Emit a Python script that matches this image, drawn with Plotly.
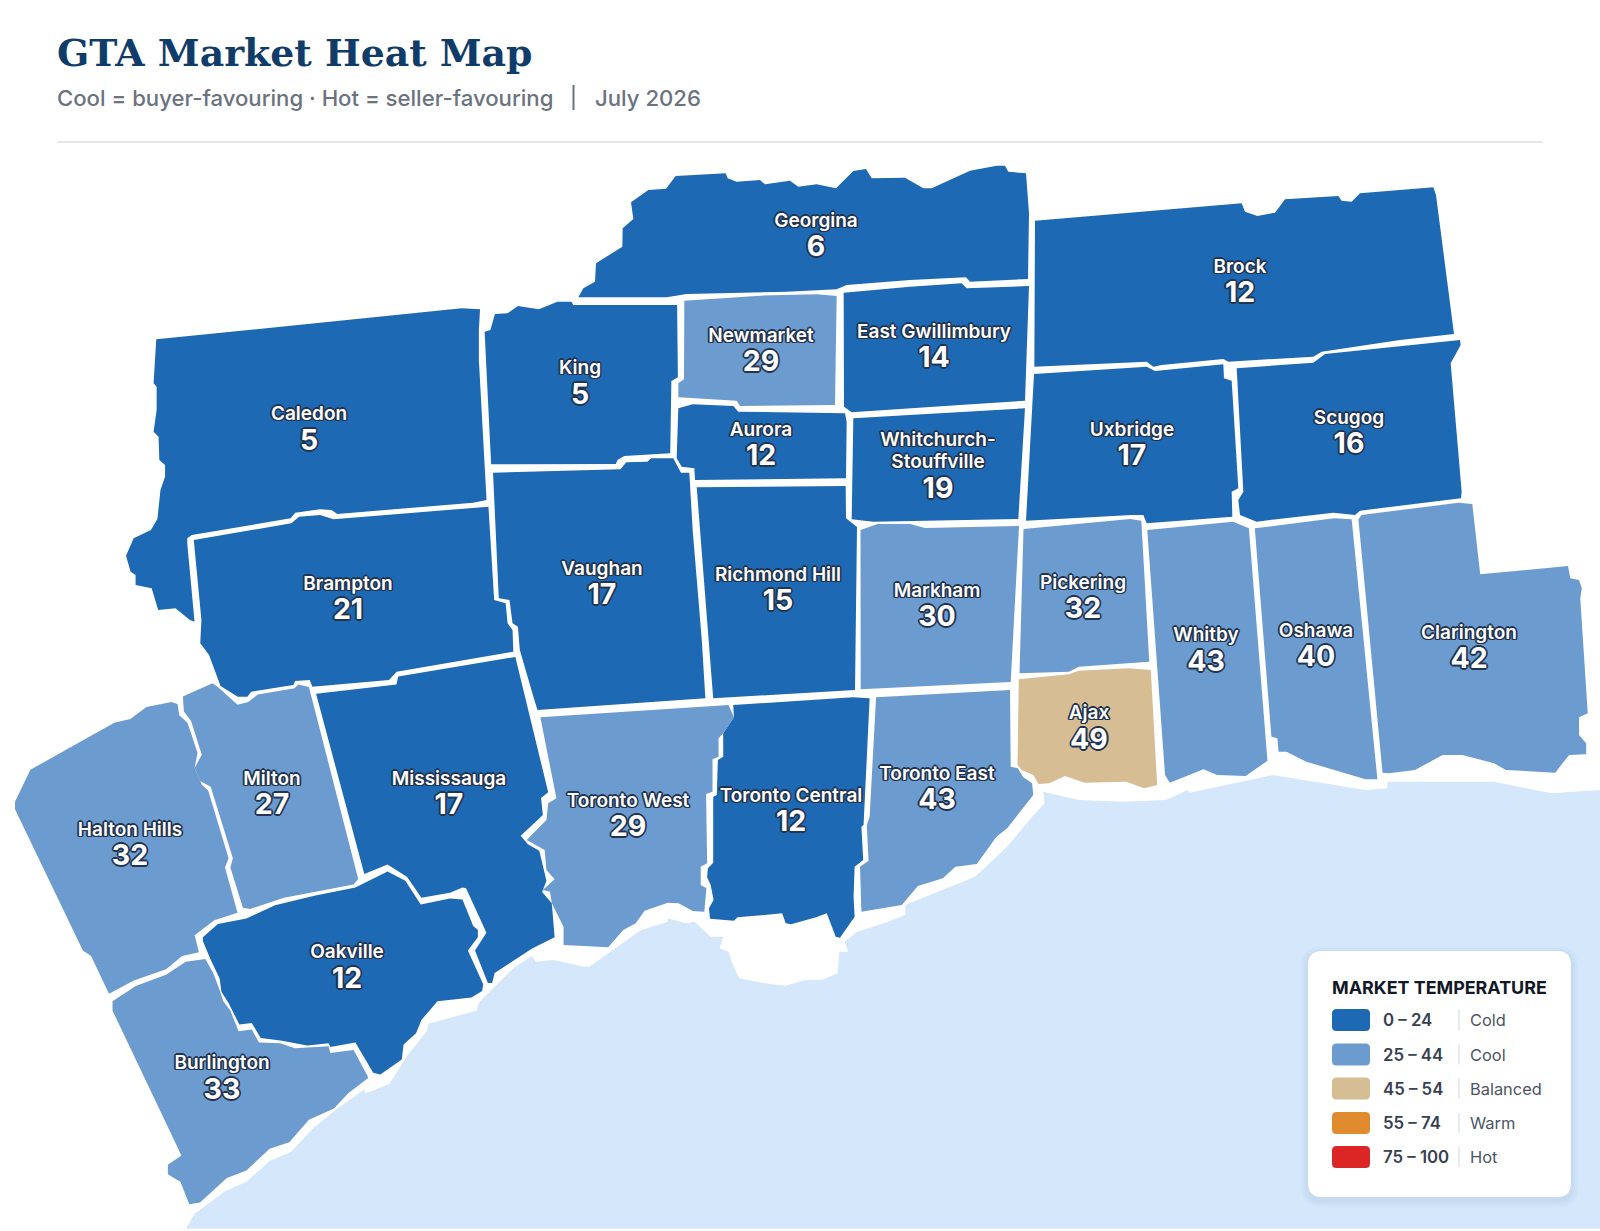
import plotly.graph_objects as go

# ---------- survey frames the outlines were read in: origin and pixels per map unit ----------
Z3 = (0, 640, 2.8, 2.658)
Z4 = (500, 640, 2.8, 3.0)
Z5 = (980, 480, 2.529, 3.0)
Z6 = (100, 280, 2.613, 3.0)
Z7 = (560, 150, 3.0, 3.0)
Z8 = (1000, 170, 3.0, 3.0)
MAP = (0, 0, 1.0, 1.0)


def seg(frame, pts):
    ox, oy, sx, sy = frame
    return [(ox + x / sx, oy + y / sy) for x, y in pts]


# ---------- data ----------
REGION_NAMES = ["Georgina", "Brock", "Caledon", "King", "Newmarket", "East Gwillimbury", "Aurora",
                "Whitchurch-Stouffville", "Uxbridge", "Scugog", "Vaughan", "Richmond Hill", "Markham",
                "Pickering", "Brampton", "Whitby", "Oshawa", "Clarington", "Ajax", "Toronto East",
                "Toronto Central", "Toronto West", "Mississauga", "Milton", "Halton Hills", "Oakville",
                "Burlington"]
REGION_SCORES = [6, 12, 5, 5, 29, 14, 12, 19, 17, 16, 17, 15, 30, 32, 21, 43, 40, 42, 49, 43, 12, 29, 17, 27,
                 32, 12, 33]

# text rows as the map prints them (one long name is wrapped over two rows)
NAME_ROWS = ["Georgina", "Brock", "Caledon", "King", "Newmarket", "East Gwillimbury", "Aurora",
             "Whitchurch-", "Stouffville", "Uxbridge", "Scugog", "Vaughan", "Richmond Hill", "Markham",
             "Pickering", "Brampton", "Whitby", "Oshawa", "Clarington", "Ajax", "Toronto East",
             "Toronto Central", "Toronto West", "Mississauga", "Milton", "Halton Hills", "Oakville",
             "Burlington"]
NAME_ROW_X = [816, 1240, 309, 580, 761, 934, 761, 938, 938, 1132, 1349, 602, 778, 937, 1083, 348, 1206, 1316, 1469,
              1089, 937, 791, 628, 449, 272, 130, 347, 222]
NAME_ROW_Y = [222, 268, 415, 369, 337, 333, 431, 441, 463, 431, 419, 570, 576, 592, 584, 585, 636, 632, 634, 714,
              775, 797, 802, 780, 780, 831, 953, 1064]
SCORE_X = [816, 1240, 309, 580, 761, 934, 761, 938, 1132, 1349, 602, 778, 937, 1083, 348, 1206, 1316, 1469, 1089,
           937, 791, 628, 449, 272, 130, 347, 222]
SCORE_Y = [249, 295, 443, 397, 364, 360, 458, 491, 458, 446, 597, 603, 619, 611, 612, 664, 659, 661, 742,
           802, 824, 829, 807, 807, 858, 981, 1092]

BIN_LOWER = [0, 25, 45, 55, 75]
BIN_RANGES = ["0 – 24", "25 – 44", "45 – 54", "55 – 74", "75 – 100"]
BIN_NAMES = ["Cold", "Cool", "Balanced", "Warm", "Hot"]
BIN_COLORS = ["#1d69b4", "#6c9bcf", "#d6bd94", "#e08c2e", "#dc2626"]

GEORGINA = seg(Z7, [(55, 442), (70, 415), (105, 395), (108, 340), (187, 290), (188, 235), (220, 207), (213, 157),
                    (265, 120), (318, 116), (347, 78), (497, 70), (503, 85), (530, 95), (600, 90), (615, 103),
                    (690, 92), (715, 110), (770, 103), (828, 115), (880, 63), (918, 57), (935, 85), (1035, 83),
                    (1090, 115), (1115, 115), (1230, 62), (1310, 47), (1335, 47), (1345, 65), (1398, 70),
                    (1407, 190), (1404, 387), (1230, 395), (1218, 382), (1050, 390), (860, 405), (830, 418),
                    (680, 425), (380, 432), (320, 442)])
NEWMARKET = seg(Z7, [(373, 452), (600, 437), (770, 433), (830, 438), (825, 765), (540, 768), (530, 752), (355, 742),
                     (355, 700), (372, 688)])
EAST_GWILLIMBURY = seg(Z7, [(851, 428), (1050, 410), (1205, 400), (1220, 415), (1407, 408), (1395, 752), (1200, 765),
                            (875, 787), (852, 770)])
KING = seg(Z6, [(1005, 155), (1020, 150), (1032, 102), (1065, 100), (1092, 78), (1147, 88), (1195, 65), (1232, 65),
                (1237, 75), (1508, 75), (1510, 292), (1493, 303), (1490, 520), (1370, 528), (1352, 540), (1348, 552),
                (1022, 553)])
CALEDON = seg(Z6, [(147, 178), (945, 85), (993, 88), (990, 150), (990, 240), (1010, 660), (975, 668), (620, 702),
                   (605, 690), (575, 688), (510, 698), (498, 715), (240, 765), (228, 775), (228, 790), (247, 1025),
                   (235, 1020), (197, 985), (152, 990), (135, 925), (93, 915), (93, 885), (80, 875), (68, 827),
                   (88, 775), (133, 750), (150, 717), (158, 630), (170, 590), (170, 555), (155, 540), (153, 470),
                   (140, 455), (148, 390), (148, 320), (140, 310)])
BRAMPTON = seg(Z6, [(245, 780), (500, 730), (520, 710), (575, 705), (610, 718), (975, 682), (1015, 680), (1030, 960),
                    (1060, 970), (1065, 1030), (1078, 1050), (1080, 1115), (775, 1175), (755, 1200), (555, 1220),
                    (548, 1200), (510, 1203), (505, 1215), (395, 1235), (385, 1250), (360, 1250), (315, 1218),
                    (285, 1125), (262, 1090), (265, 1020)])
VAUGHAN = seg(Z6, [(1027, 578), (1360, 568), (1375, 547), (1430, 545), (1440, 535), (1498, 535), (1518, 578)]) + \
    seg(Z7, [(388, 968), (398, 1140)]) + seg(Z4, [(565, 0), (575, 175), (105, 210)]) + \
    seg(Z6, [(1135, 1260), (1097, 1110), (1092, 1040), (1078, 1030), (1070, 960), (1042, 955)])
AURORA = seg(Z7, [(355, 775), (398, 763), (520, 768), (535, 785), (855, 790), (860, 815), (858, 985), (405, 990),
                  (403, 955), (365, 950), (350, 925)])
WHITCHURCH = seg(Z7, [(880, 805), (1395, 775), (1375, 1107), (940, 1115), (875, 1108)])
RICHMOND_HILL = seg(MAP, [(696.7, 487.3), (845.7, 486), (846, 518.3), (857, 527), (855, 690), (713.2, 698.3)])
MARKHAM = seg(MAP, [(860.5, 530), (877.5, 524), (910, 524), (925, 528), (1019, 526), (1010.7, 682), (860.7, 689.3)])
PICKERING = seg(Z5, [(110, 147), (380, 117), (408, 122), (428, 545), (250, 560), (225, 575), (100, 580)])
AJAX = seg(Z5, [(98, 598), (225, 583), (250, 572), (375, 565), (432, 570), (448, 915), (415, 925), (370, 905),
                (265, 908), (215, 888), (175, 910), (148, 912), (135, 885), (105, 870), (95, 855)])
WHITBY = seg(Z5, [(423, 150), (640, 125), (680, 145), (727, 842), (672, 888), (600, 885), (565, 868), (480, 908),
                  (468, 885)])
OSHAWA = seg(Z5, [(695, 145), (895, 115), (940, 118), (1005, 898), (975, 898), (825, 845), (775, 815), (755, 815),
                  (752, 775), (737, 770)])
CLARINGTON = seg(Z5, [(957, 118), (965, 105), (1210, 68), (1245, 72), (1265, 283), (1487, 258), (1493, 295),
                      (1515, 300), (1522, 325), (1518, 355), (1537, 700), (1515, 712), (1515, 765), (1533, 790),
                      (1533, 823), (1490, 825), (1473, 850), (1455, 878), (1330, 870), (1300, 850), (1220, 825),
                      (1170, 825), (1100, 870), (1035, 880), (1018, 878)])
BROCK = seg(Z8, [(105, 152), (725, 100), (735, 125), (772, 138), (825, 128), (855, 88), (1015, 78), (1025, 92),
                 (1055, 95), (1080, 70), (1300, 52), (1308, 75), (1362, 492), (1200, 510), (965, 545), (940, 560),
                 (685, 575), (670, 567), (485, 585), (460, 590), (440, 575), (103, 590)])
UXBRIDGE = seg(Z8, [(102, 612), (440, 590), (465, 603), (670, 583), (672, 625), (695, 632), (715, 955), (695, 965),
                    (697, 1040), (440, 1060), (430, 1035), (395, 1035), (78, 1052)])
SCUGOG = seg(Z8, [(710, 595), (940, 578), (975, 552), (1380, 510), (1382, 525), (1352, 580), (1385, 965), (1383, 985),
                  (1080, 1022), (1065, 1035), (1000, 1028), (770, 1055), (720, 1035), (715, 990), (730, 965)])
MILTON = seg(Z3, [(512, 150), (595, 115), (610, 125), (665, 172), (695, 165), (722, 145), (825, 128), (835, 118),
                  (865, 125), (1003, 635), (990, 650), (795, 685), (700, 715), (680, 712), (645, 605), (652, 580),
                  (590, 390), (560, 375), (545, 340), (565, 305), (535, 215), (515, 190)])
HALTON_HILLS = seg(Z3, [(85, 345), (320, 220), (365, 210), (410, 178), (480, 165), (497, 170), (502, 200), (525, 220),
                        (553, 300), (545, 340), (565, 385), (583, 400), (640, 580), (630, 605), (665, 725), (600, 745),
                        (545, 785), (557, 830), (510, 840), (465, 875), (375, 905), (305, 940), (255, 840), (232, 825),
                        (42, 450), (42, 430)])
BURLINGTON = seg(Z3, [(315, 960), (380, 920), (465, 890), (520, 855), (575, 848), (597, 885), (615, 930), (625, 960),
                      (645, 985), (668, 1040), (705, 1035), (725, 1070), (785, 1072), (825, 1085), (920, 1080),
                      (925, 1098), (990, 1090), (1030, 1160), (1030, 1165), (975, 1205), (935, 1245), (865, 1275),
                      (810, 1335), (755, 1352), (690, 1410), (635, 1430), (560, 1495), (530, 1500), (505, 1440),
                      (470, 1420), (470, 1395), (508, 1370), (315, 985)])
OAKVILLE = seg(Z3, [(568, 790), (610, 755), (690, 740), (770, 705), (880, 680), (995, 658), (1085, 615), (1135, 640),
                    (1178, 703), (1260, 687), (1295, 690), (1325, 760), (1338, 770), (1338, 790), (1310, 825),
                    (1353, 915), (1350, 933), (1320, 950), (1225, 960), (1180, 1010), (1165, 1045), (1130, 1075),
                    (1125, 1115), (1065, 1155), (1045, 1150), (995, 1070), (925, 1082), (920, 1072), (860, 1078),
                    (790, 1065), (730, 1058), (705, 1018), (670, 1022), (640, 965), (620, 935), (615, 900), (590, 850),
                    (568, 800)])
MISSISSAUGA = seg(Z3, [(885, 143), (1110, 118), (1115, 97), (1443, 45), (1535, 405), (1515, 420), (1520, 465),
                       (1458, 520), (1478, 543), (1510, 560), (1530, 640), (1518, 670), (1545, 700), (1553, 790),
                       (1490, 820), (1440, 850), (1385, 885), (1378, 912), (1366, 912), (1330, 825), (1362, 778),
                       (1305, 660), (1295, 658), (1260, 672), (1180, 685), (1140, 630), (1085, 597), (1020, 622)])
TORONTO_WEST = seg(Z4, [(113, 232), (640, 195), (655, 232), (625, 280), (612, 295), (612, 350), (595, 358), (595, 455),
                        (577, 462), (580, 670), (562, 680), (562, 735), (578, 745), (572, 815), (540, 813), (500, 790),
                        (470, 788), (405, 812), (380, 850), (345, 870), (303, 922), (178, 915), (178, 860), (145, 790),
                        (140, 755), (120, 750), (153, 718), (130, 690), (125, 630), (75, 600), (130, 540), (135, 490),
                        (158, 475)])
TORONTO_CENTRAL = seg(Z4, [(653, 195), (988, 172), (1035, 175), (1022, 470), (1018, 555), (1012, 560), (1017, 660),
                           (993, 680), (990, 770), (993, 830), (952, 893), (940, 890), (915, 820), (885, 832),
                           (815, 853), (800, 850), (790, 820), (665, 832), (655, 842), (588, 836), (585, 805),
                           (598, 780), (590, 735), (580, 712), (582, 685), (597, 668), (597, 470), (607, 465),
                           (610, 360), (625, 350), (625, 280), (655, 232)])
TORONTO_EAST = seg(Z4, [(1053, 172), (1428, 150), (1430, 380), (1450, 385), (1465, 412), (1490, 430), (1493, 465),
                        (1420, 565), (1390, 590), (1335, 672), (1275, 680), (1240, 715), (1170, 738), (1125, 795),
                        (1012, 815), (1008, 680), (1032, 662), (1027, 555), (1035, 530)])
LAKE = seg(MAP, [(186, 1228.8)]) + \
    seg(Z3, [(545, 1525), (630, 1465), (690, 1440), (755, 1385), (815, 1360), (880, 1295), (945, 1245), (1020, 1195),
             (1025, 1205), (1090, 1180), (1140, 1105), (1195, 1040), (1200, 1020), (1335, 985), (1340, 965), (1360, 945),
             (1440, 870), (1490, 840), (1500, 855)]) + \
    seg(Z4, [(55, 970), (105, 965), (150, 960), (235, 980), (250, 980), (395, 870), (470, 845), (470, 835), (520, 850),
             (545, 845), (590, 890), (625, 890), (615, 925), (640, 935), (650, 970), (670, 1015), (740, 1030), (800, 1037),
             (855, 1020), (900, 1020), (945, 1000), (950, 935), (975, 935), (965, 905), (1000, 875), (1075, 850),
             (1135, 825), (1135, 795), (1250, 745), (1270, 735), (1330, 710), (1420, 620), (1490, 530), (1525, 490)]) + \
    seg(Z5, [(160, 935), (250, 960), (360, 965), (470, 960), (525, 930), (530, 938), (640, 910), (740, 885), (975, 930),
             (1030, 925), (1030, 905), (1300, 905), (1445, 940), (1565, 930)]) + \
    seg(MAP, [(1600, 790), (1600, 1228.8)])

REGION_RINGS = [GEORGINA, BROCK, CALEDON, KING, NEWMARKET, EAST_GWILLIMBURY, AURORA, WHITCHURCH, UXBRIDGE, SCUGOG,
                VAUGHAN, RICHMOND_HILL, MARKHAM, PICKERING, BRAMPTON, WHITBY, OSHAWA, CLARINGTON, AJAX, TORONTO_EAST,
                TORONTO_CENTRAL, TORONTO_WEST, MISSISSAUGA, MILTON, HALTON_HILLS, OAKVILLE, BURLINGTON]

# ---------- styles ----------
SANS = "Inter, 'Noto Sans', sans-serif"
OUT = "#22344f"


def halo(r):
    return ",".join(f"{dx * r}px {dy * r}px 0 {OUT}" for dx, dy in
                    [(-1, 0), (1, 0), (0, -1), (0, 1), (-.7, -.7), (.7, -.7), (-.7, .7), (.7, .7)])


def colour(v):
    c = BIN_COLORS[0]
    for low, col in zip(BIN_LOWER, BIN_COLORS):
        if v >= low:
            c = col
    return c


def closed(ring):
    xs = [p[0] for p in ring] + [ring[0][0]]
    ys = [p[1] for p in ring] + [ring[0][1]]
    return xs, ys


def rrect(x0, y0, x1, y1, r):
    return (f"M{x0 + r},{y0} L{x1 - r},{y0} Q{x1},{y0} {x1},{y0 + r} L{x1},{y1 - r} Q{x1},{y1} {x1 - r},{y1} "
            f"L{x0 + r},{y1} Q{x0},{y1} {x0},{y1 - r} L{x0},{y0 + r} Q{x0},{y0} {x0 + r},{y0} Z")


fig = go.Figure()

lx, ly = closed(LAKE)
fig.add_trace(go.Scatter(x=lx, y=ly, mode="lines", fill="toself", fillcolor="#d4e7fb",
                         line=dict(width=0, color="#d4e7fb"), hoverinfo="skip", showlegend=False))

for name, score, ring in zip(REGION_NAMES, REGION_SCORES, REGION_RINGS):
    xs, ys = closed(ring)
    c = colour(score)
    fig.add_trace(go.Scatter(x=xs, y=ys, mode="lines", fill="toself", fillcolor=c, line=dict(width=0, color=c),
                             name=name, text=f"{name}: {score}", hoverinfo="text", showlegend=False))

fig.add_trace(go.Scatter(x=NAME_ROW_X, y=NAME_ROW_Y, mode="text", text=NAME_ROWS, textposition="middle center",
                         textfont=dict(family=SANS, size=19, color="white", weight=600, shadow=halo(1.7)),
                         hoverinfo="skip", showlegend=False))
fig.add_trace(go.Scatter(x=SCORE_X, y=SCORE_Y, mode="text", text=[str(v) for v in REGION_SCORES],
                         textposition="middle center",
                         textfont=dict(family=SANS, size=28.5, color="white", weight=700, shadow=halo(1.8)),
                         hoverinfo="skip", showlegend=False))

shapes = [dict(type="line", x0=57, x1=1543, y0=142, y1=142, line=dict(color="#e5e7eb", width=2), layer="below"),
          dict(type="line", x0=573.5, x1=573.5, y0=85, y1=110, line=dict(color="#6b7280", width=2), layer="below")]
for i, a in enumerate([0.012, 0.015, 0.018, 0.02]):
    g = 8 - 2 * i
    shapes.append(dict(type="path", path=rrect(1308 - g, 951 - g + 3, 1571 + g, 1197 + g + 3, 14 + g),
                       fillcolor=f"rgba(30,50,90,{a})", line_width=0, layer="above"))
shapes.append(dict(type="path", path=rrect(1308, 951, 1571, 1197, 14), fillcolor="white", line_width=0, layer="above"))

ann = [dict(x=54.5, y=53, text="<b>GTA Market Heat Map</b>", font=dict(family="'DejaVu Serif', serif", size=37.8,
                                                                          color="#0f3c68")),
       dict(x=54.5, y=98, text="Cool = buyer-favouring · Hot = seller-favouring",
            font=dict(family=SANS, size=22.15, color="#6b7280", weight=500)),
       dict(x=593, y=98, text="July 2026", font=dict(family=SANS, size=22.15, color="#6b7280", weight=500)),
       dict(x=1330, y=987, text="<b>MARKET TEMPERATURE</b>", font=dict(family=SANS, size=17.9, color="#111827"))]
ROW_Y = [1020, 1054.5, 1088.5, 1123, 1157]
for y, rng, lab, col in zip(ROW_Y, BIN_RANGES, BIN_NAMES, BIN_COLORS):
    shapes.append(dict(type="path", path=rrect(1332, y - 11, 1370, y + 11, 4.5), fillcolor=col, line_width=0,
                       layer="above"))
    shapes.append(dict(type="line", x0=1459, x1=1459, y0=y - 10, y1=y + 10, line=dict(color="#d1d5db", width=1),
                       layer="above"))
    ann.append(dict(x=1381, y=y, text=rng, font=dict(family=SANS, size=16.8, color="#374151", weight=600)))
    ann.append(dict(x=1468, y=y, text=lab, font=dict(family=SANS, size=16.4, color="#4b5563", weight=400)))
for a in ann:
    a.update(xref="x", yref="y", xanchor="left", yanchor="middle", showarrow=False)

fig.update_layout(width=1600, height=1231, margin=dict(l=0, r=0, t=0, b=0), paper_bgcolor="white",
                  plot_bgcolor="white", shapes=shapes, annotations=ann, showlegend=False,
                  xaxis=dict(range=[0, 1600], visible=False, fixedrange=True),
                  yaxis=dict(range=[1231, 0], visible=False, fixedrange=True))

fig.write_html("out.html", config=dict(displayModeBar=False),
               post_script="document.body.style.margin='0';document.body.style.overflow='hidden';")
